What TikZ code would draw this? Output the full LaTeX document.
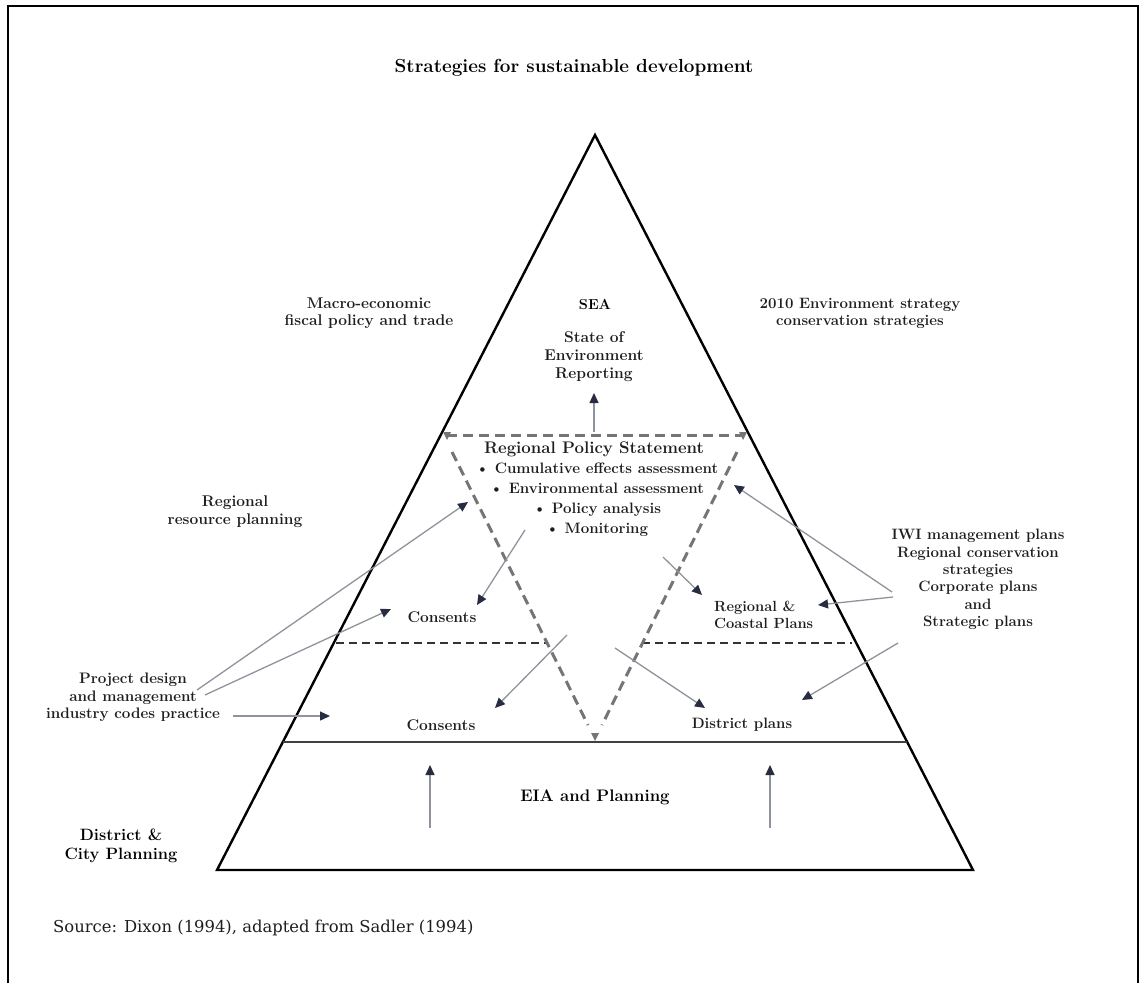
\documentclass[tikz,border=0pt]{standalone}
\usepackage{fontspec}
\newfontfamily\srcfont{DejaVu Serif}
\usetikzlibrary{arrows.meta}
\definecolor{tipc}{HTML}{272C40}
\definecolor{linec}{HTML}{8E939C}
\definecolor{dashc}{HTML}{757575}
\definecolor{txt}{HTML}{1E1E1E}
\tikzset{
  lbl/.style={font=\bfseries\fontsize{15}{17.4}\selectfont, text=txt, align=center, inner sep=0pt},
  blk/.style={font=\bfseries\fontsize{16.5}{19}\selectfont, text=black, align=center, inner sep=0pt},
  arr/.style={draw=linec, line width=1.3pt, -{Triangle[length=10pt,width=9pt,color=tipc]}},
  tri/.style={draw=black, line width=2.4pt, line join=miter},
  thindash/.style={draw=black!80, line width=1.3pt, dash pattern=on 8pt off 5pt},
  graydash/.style={draw=dashc, line width=3pt, dash pattern=on 10pt off 6pt},
  smalltip/.style={fill=dashc},
}
\begin{document}
\begin{tikzpicture}[x=1pt,y=-1pt]
\useasboundingbox (0,0) rectangle (1146,983);
% frame
\draw[line width=2pt] (8,983) -- (8,6) -- (1138,6) -- (1138,983);

% title
\node[font=\bfseries\fontsize{18.9}{22}\selectfont, inner sep=0pt] (title) at (574,68) {Strategies for sustainable development};

% main triangle
\coordinate (apex) at (595,135);
\coordinate (bl) at (217,870);
\coordinate (br) at (973,870);
\draw[tri] (apex) -- (br) -- (bl) -- cycle;

% solid divider
\coordinate (sl) at (282.8,742);
\coordinate (sr) at (907.2,742);
\draw[draw=black!75, line width=1.8pt] (sl) -- (sr);

% thin dashed dividers
\coordinate (dl1) at (336,643);
\coordinate (dl2) at (547,643);
\coordinate (dr1) at (642,643);
\coordinate (dr2) at (852,643);
\draw[thindash] (dl1) -- (dl2);
\draw[thindash] (dr1) -- (dr2);

% gray dashed inverted triangle
\coordinate (gt1) at (447,435);
\coordinate (gt2) at (743,435);
\coordinate (gs1) at (452,452);
\coordinate (gs2) at (588,725);
\coordinate (gs3) at (737,452);
\coordinate (gs4) at (602,725);
\draw[graydash] (gt1) -- (gt2);
\draw[graydash] (gs1) -- (gs2);
\draw[graydash] (gs3) -- (gs4);
\fill[smalltip] (443,432) -- (451,432) -- (447,440) -- cycle;
\fill[smalltip] (739,432) -- (747,432) -- (743,440) -- cycle;
\fill[smalltip] (591,733) -- (599,733) -- (595,741) -- cycle;

% texts
\node[font=\bfseries\fontsize{14.5}{16}\selectfont, inner sep=0pt] (sea) at (595,305) {SEA};
\node[lbl, font=\bfseries\fontsize{15.6}{18}\selectfont] (soe) at (594,357) {State of\\Environment\\Reporting};
\node[lbl, font=\bfseries\fontsize{15.5}{17}\selectfont] (macro) at (369,313.5) {Macro-economic\\fiscal policy and trade};
\node[lbl, font=\bfseries\fontsize{15}{17}\selectfont] (env2010) at (860,313.5) {2010 Environment strategy\\conservation strategies};
\node[lbl, font=\bfseries\fontsize{16.8}{19}\selectfont] (rps) at (594,449) {Regional Policy Statement};
\node[lbl, font=\bfseries\fontsize{15.1}{20}\selectfont] (bullets) at (597,500) {\textbullet\ Cumulative effects assessment\\\textbullet\ Environmental assessment\\\textbullet\ Policy analysis\\\textbullet\ Monitoring};
\node[lbl, font=\bfseries\fontsize{15.5}{18}\selectfont] (rrp) at (235,512) {Regional\\resource planning};
\node[lbl] (iwi) at (978,579.5) {IWI management plans\\Regional conservation\\strategies\\Corporate plans\\and\\Strategic plans};
\node[lbl, align=left, anchor=west, font=\bfseries\fontsize{14.7}{17}\selectfont] (rcp) at (714,614.5) {Regional \&\\Coastal Plans};
\node[lbl, font=\bfseries\fontsize{15.5}{18}\selectfont] (cons1) at (442,617) {Consents};
\node[lbl, font=\bfseries\fontsize{15.5}{18}\selectfont] (cons2) at (441,725) {Consents};
\node[lbl] (dplans) at (742,725) {District plans};
\node[lbl, font=\bfseries\fontsize{15.2}{17.5}\selectfont] (pd) at (133,697.5) {Project design\\and management\\industry codes practice};
\node[blk, font=\bfseries\fontsize{16.7}{19}\selectfont] (eia) at (595,797) {EIA and Planning};
\node[blk, font=\bfseries\fontsize{16.4}{19}\selectfont] (dcp) at (121,845.5) {District \&\\City Planning};
\node[font=\srcfont\fontsize{16.4}{20}\selectfont, text=txt, anchor=west, inner sep=0pt] (src) at (53,928) {Source: Dixon (1994), adapted from Sadler (1994)};

% arrow end points
\coordinate (a1s) at (197,690);  \coordinate (a1e) at (468,502);
\coordinate (a2s) at (205,695);  \coordinate (a2e) at (391,609);
\coordinate (a3s) at (233,716);  \coordinate (a3e) at (330,716);
\coordinate (a4s) at (525,530);  \coordinate (a4e) at (477,605);
\coordinate (a5s) at (663,557);  \coordinate (a5e) at (702,595);
\coordinate (a6s) at (567,635);  \coordinate (a6e) at (495,708);
\coordinate (a7s) at (615,648);  \coordinate (a7e) at (705,708);
\coordinate (a8s) at (892,592);  \coordinate (a8e) at (734,485);
\coordinate (a9s) at (893,597);  \coordinate (a9e) at (818,605);
\coordinate (a10s) at (898,643); \coordinate (a10e) at (802,700);
\coordinate (a11s) at (594,432); \coordinate (a11e) at (594,393);
\coordinate (a12s) at (430,828); \coordinate (a12e) at (430,765);
\coordinate (a13s) at (770,828); \coordinate (a13e) at (770,765);

\draw[arr] (a1s) -- (a1e);
\draw[arr] (a2s) -- (a2e);
\draw[arr] (a3s) -- (a3e);
\draw[arr] (a4s) -- (a4e);
\draw[arr] (a5s) -- (a5e);
\draw[arr] (a6s) -- (a6e);
\draw[arr] (a7s) -- (a7e);
\draw[arr] (a8s) -- (a8e);
\draw[arr] (a9s) -- (a9e);
\draw[arr] (a10s) -- (a10e);
\draw[arr] (a11s) -- (a11e);
\draw[arr] (a12s) -- (a12e);
\draw[arr] (a13s) -- (a13e);
\end{tikzpicture}
\end{document}
